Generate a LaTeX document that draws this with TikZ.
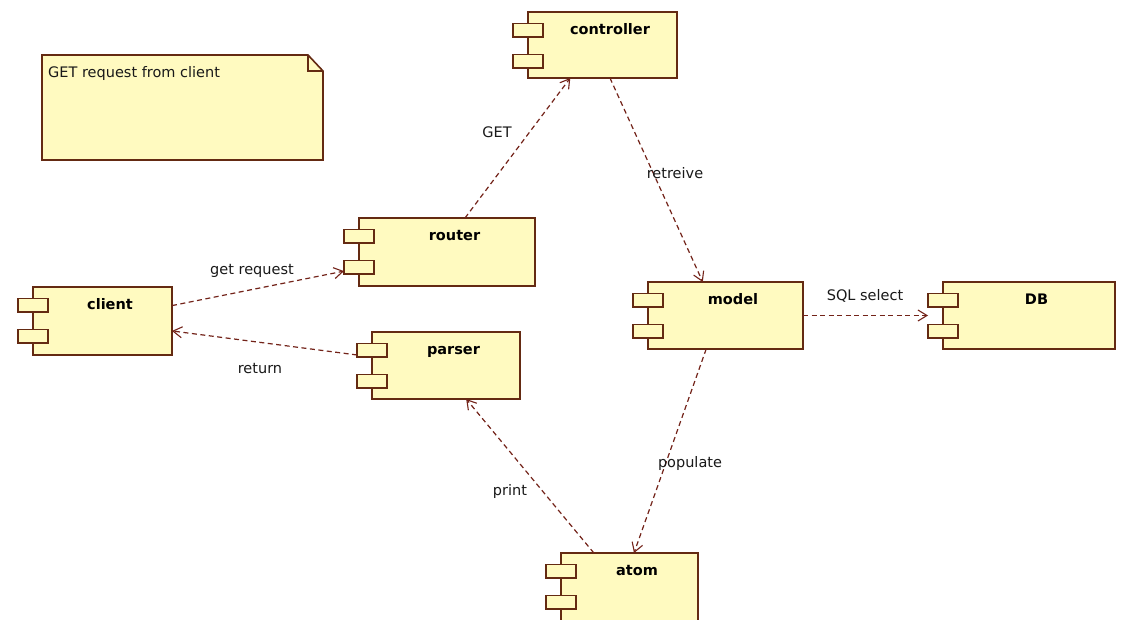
\documentclass[tikz,border=0pt]{standalone}
\usepackage{fontspec}
\setmainfont{DejaVu Sans}
\usetikzlibrary{arrows.meta,calc}
\definecolor{boxfill}{RGB}{255,250,192}
\definecolor{boxline}{RGB}{100,42,18}
\definecolor{depcol}{RGB}{115,35,25}
\tikzset{
  bbox/.style={draw=none, inner sep=0pt, outer sep=0pt, anchor=north west},
  mainbox/.style={fill=boxfill, draw=boxline, line width=1.6pt},
  portbox/.style={fill=boxfill, draw=boxline, line width=1.6pt},
  title/.style={font=\bfseries\fontsize{14.5}{17}\selectfont, anchor=base, inner sep=0pt},
  lbl/.style={font=\fontsize{14.5}{17}\selectfont, anchor=base, inner sep=0pt, text=black!90},
  dep/.style={draw=depcol, line width=1.2pt, dash pattern=on 5pt off 3.5pt,
    -{Straight Barb[length=9pt,width=11pt,line width=1.1pt]}},
}
% #1 name, #2 left of main box, #3 top, #4 right, #5 height, #6 label
\newcommand\umlcomp[6]{%
  \node[bbox, minimum width={(#4-#2+15)*1pt}, minimum height={#5*1pt}] (#1) at (#2-15,#3) {};
  \draw[mainbox] (#2,#3) rectangle (#4,#3+#5);
  \draw[portbox] (#2-15,#3+11.5) rectangle (#2+15,#3+25);
  \draw[portbox] (#2-15,#3+42.5) rectangle (#2+15,#3+56);
  \node[title] (#1-t) at ({(#2+15+#4)/2},#3+22) {#6};
}
\begin{document}
\begin{tikzpicture}[x=1pt,y=-1pt]
\useasboundingbox (0,0) rectangle (1126,619);
\fill[white] (0,0) rectangle (1126,619);

% note
\draw[mainbox] (42,55) -- (308,55) -- (323,71) -- (323,160) -- (42,160) -- cycle;
\draw[boxline, line width=1.3pt] (308,55) -- (308,71) -- (323,71);
\node[lbl, anchor=base west] (note) at (48,77) {GET request from client};

% components
\umlcomp{client}{33}{287}{172}{68}{client}
\umlcomp{router}{359}{218}{535}{68}{router}
\umlcomp{parser}{372}{332}{520}{67}{parser}
\umlcomp{controller}{528}{12}{677}{66}{controller}
\umlcomp{model}{648}{282}{803}{67}{model}
\umlcomp{db}{943}{282}{1115}{67}{DB}
\umlcomp{atom}{561}{553}{698}{68}{atom}

% dependencies
\draw[dep] (client) -- (router);
\draw[dep] (parser) -- (client);
\draw[dep] (router) -- (controller);
\draw[dep] (controller) -- (model);
\draw[dep] (model) -- (db);
\draw[dep] (model) -- (atom);
\draw[dep] (atom) -- (parser);

% labels
\node[lbl] (l1) at (252,274) {get request};
\node[lbl] (l2) at (260,373) {return};
\node[lbl] (l3) at (497,137) {GET};
\node[lbl] (l4) at (675,178) {retreive};
\node[lbl] (l5) at (865,300) {SQL select};
\node[lbl] (l6) at (690,467) {populate};
\node[lbl] (l7) at (510,495) {print};
\end{tikzpicture}
\end{document}
